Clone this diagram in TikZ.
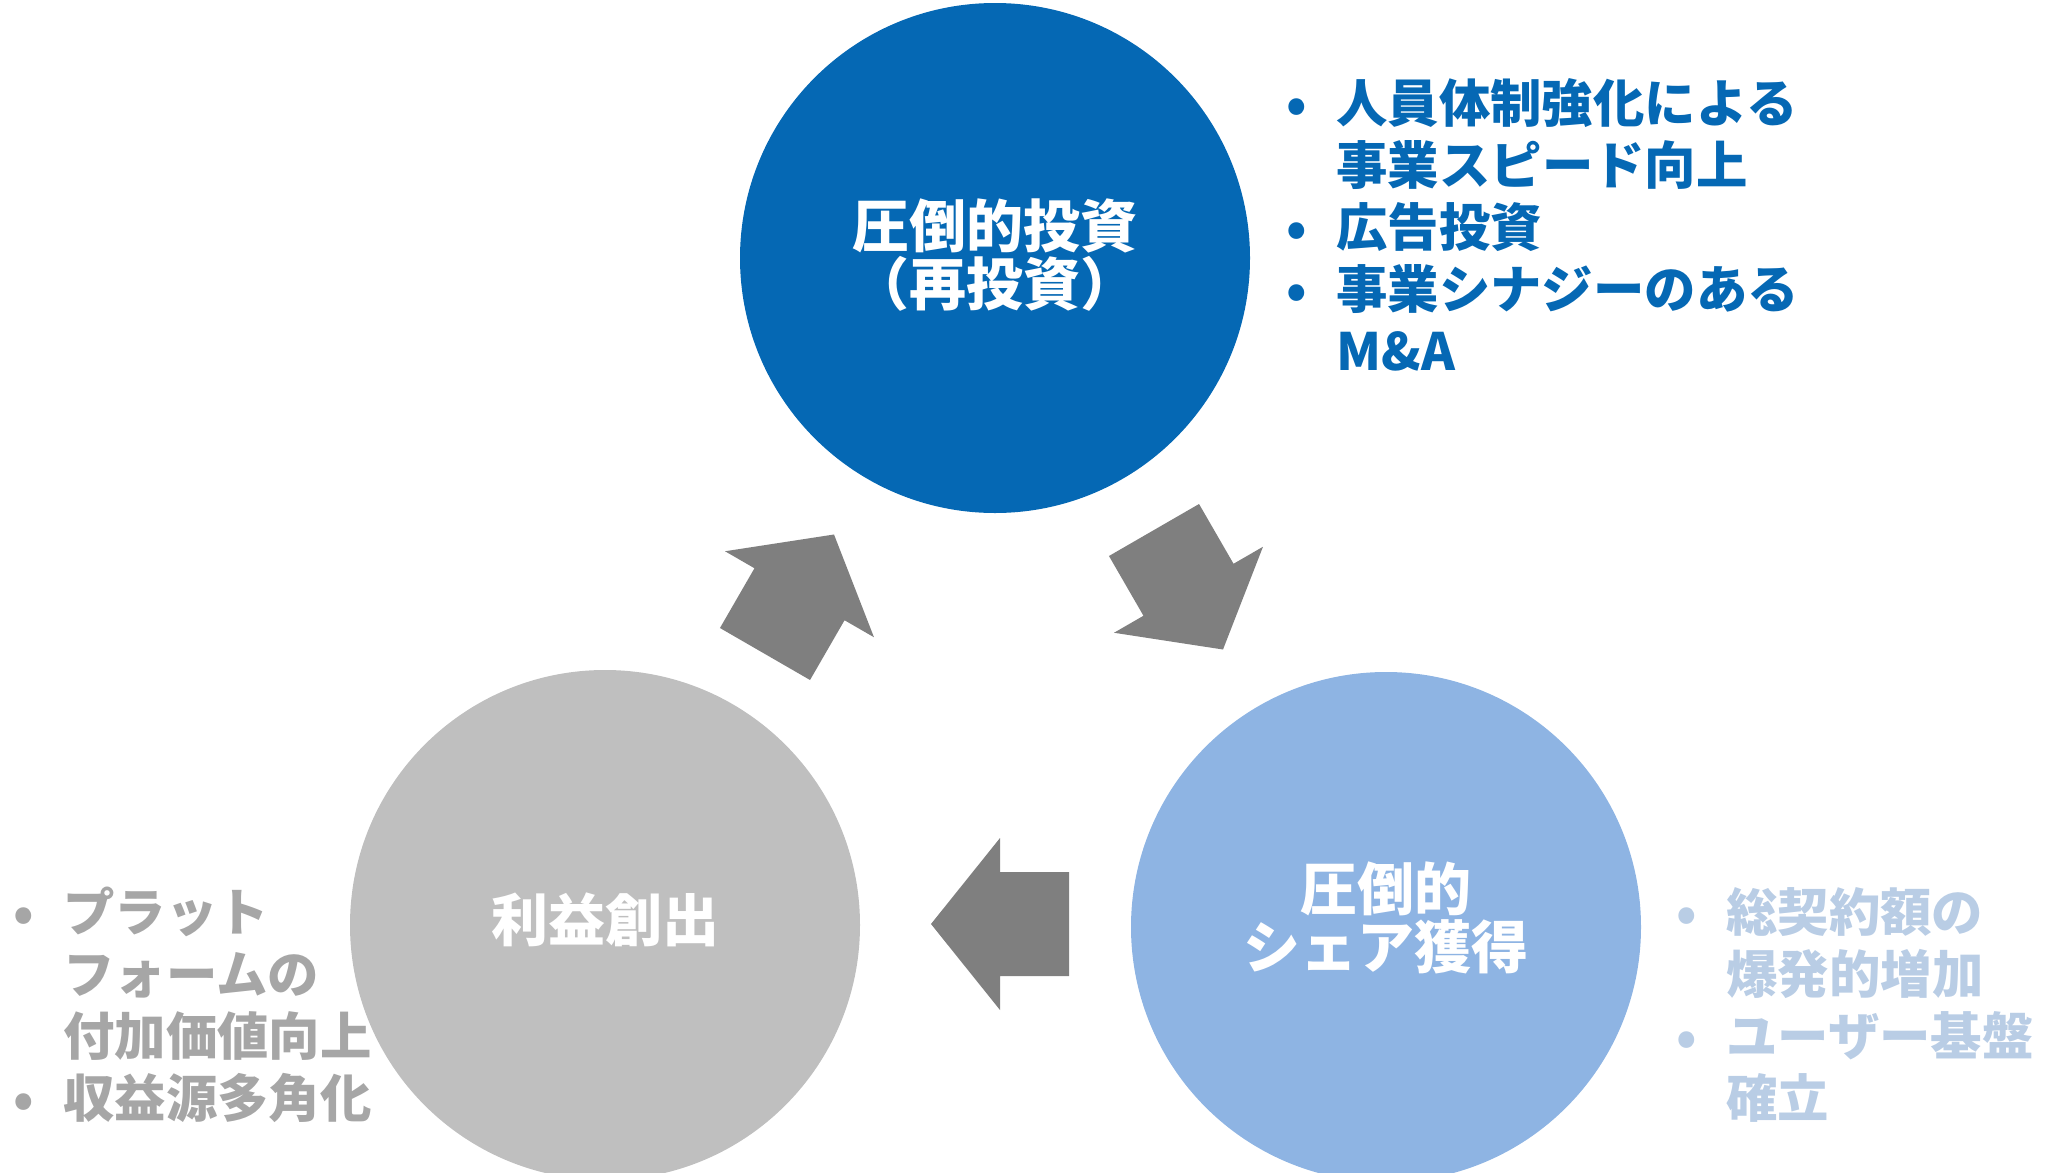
\documentclass[tikz,border=0pt]{standalone}
\usepackage{fontspec}
\setmainfont{Noto Sans CJK JP}
\definecolor{cblue}{RGB}{5,104,180}
\definecolor{clight}{RGB}{142,180,227}
\definecolor{cgray}{RGB}{191,191,191}
\definecolor{agray}{RGB}{127,127,127}
\definecolor{tgray}{RGB}{166,166,166}
\definecolor{tlight}{RGB}{185,205,229}
\newcommand\bul{\makebox[25pt][l]{•}}
\newcommand\ind{\hspace*{25pt}}
\tikzset{
  phase/.style={circle, minimum size=255pt, inner sep=0pt, text=white,
    font=\bfseries\fontsize{28.5}{29}\selectfont, align=center},
  phasetext/.style={inner sep=0pt, text=white,
    font=\bfseries\fontsize{28.5}{29}\selectfont, align=center},
  notes/.style={inner sep=0pt, anchor=west, align=left,
    font=\bfseries\fontsize{25.7}{31}\selectfont},
  blockarrow/.pic={\fill[agray] (0,52)--(69,52)--(69,86)--(138,0)--(69,-86)--(69,-52)--(0,-52)--cycle;}
}
\begin{document}
\begin{tikzpicture}[x=0.5pt,y=-0.5pt]
\useasboundingbox (0,0) rectangle (2058,1173);
\clip (0,0) rectangle (2058,1173);
% circles
\node[phase, fill=cblue] (inv) at (995,258) {};
\node[phase, fill=cgray] (profit) at (605,925) {};
\node[phase, fill=clight] (share) at (1386,927) {};
% circle texts
\node[phasetext] (invtext) at (995,255) {圧倒的投資\\（再投資）};
\node[phasetext] (profittext) at (605,920) {利益創出};
\node[phasetext] (sharetext) at (1386,918) {圧倒的\\シェア獲得};
% arrows
\pic[rotate=-60] (arrowA) at (1154,530) {blockarrow};
\pic[rotate=180] (arrowB) at (1069,924) {blockarrow};
\pic[rotate=60] (arrowC) at (765,654) {blockarrow};
% notes
\node[notes, text=cblue] (invnotes) at (1286,225)
  {\bul 人員体制強化による\\\ind 事業スピード向上\\\bul 広告投資\\\bul 事業シナジーのある\\\ind M\&A};
\node[notes, text=tgray] (profitnotes) at (13,1005)
  {\bul プラット\\\ind フォームの\\\ind 付加価値向上\\\bul 収益源多角化};
\node[notes, text=tlight] (sharenotes) at (1676,1005)
  {\bul 総契約額の\\\ind 爆発的増加\\\bul ユーザー基盤\\\ind 確立};
\end{tikzpicture}
\end{document}
